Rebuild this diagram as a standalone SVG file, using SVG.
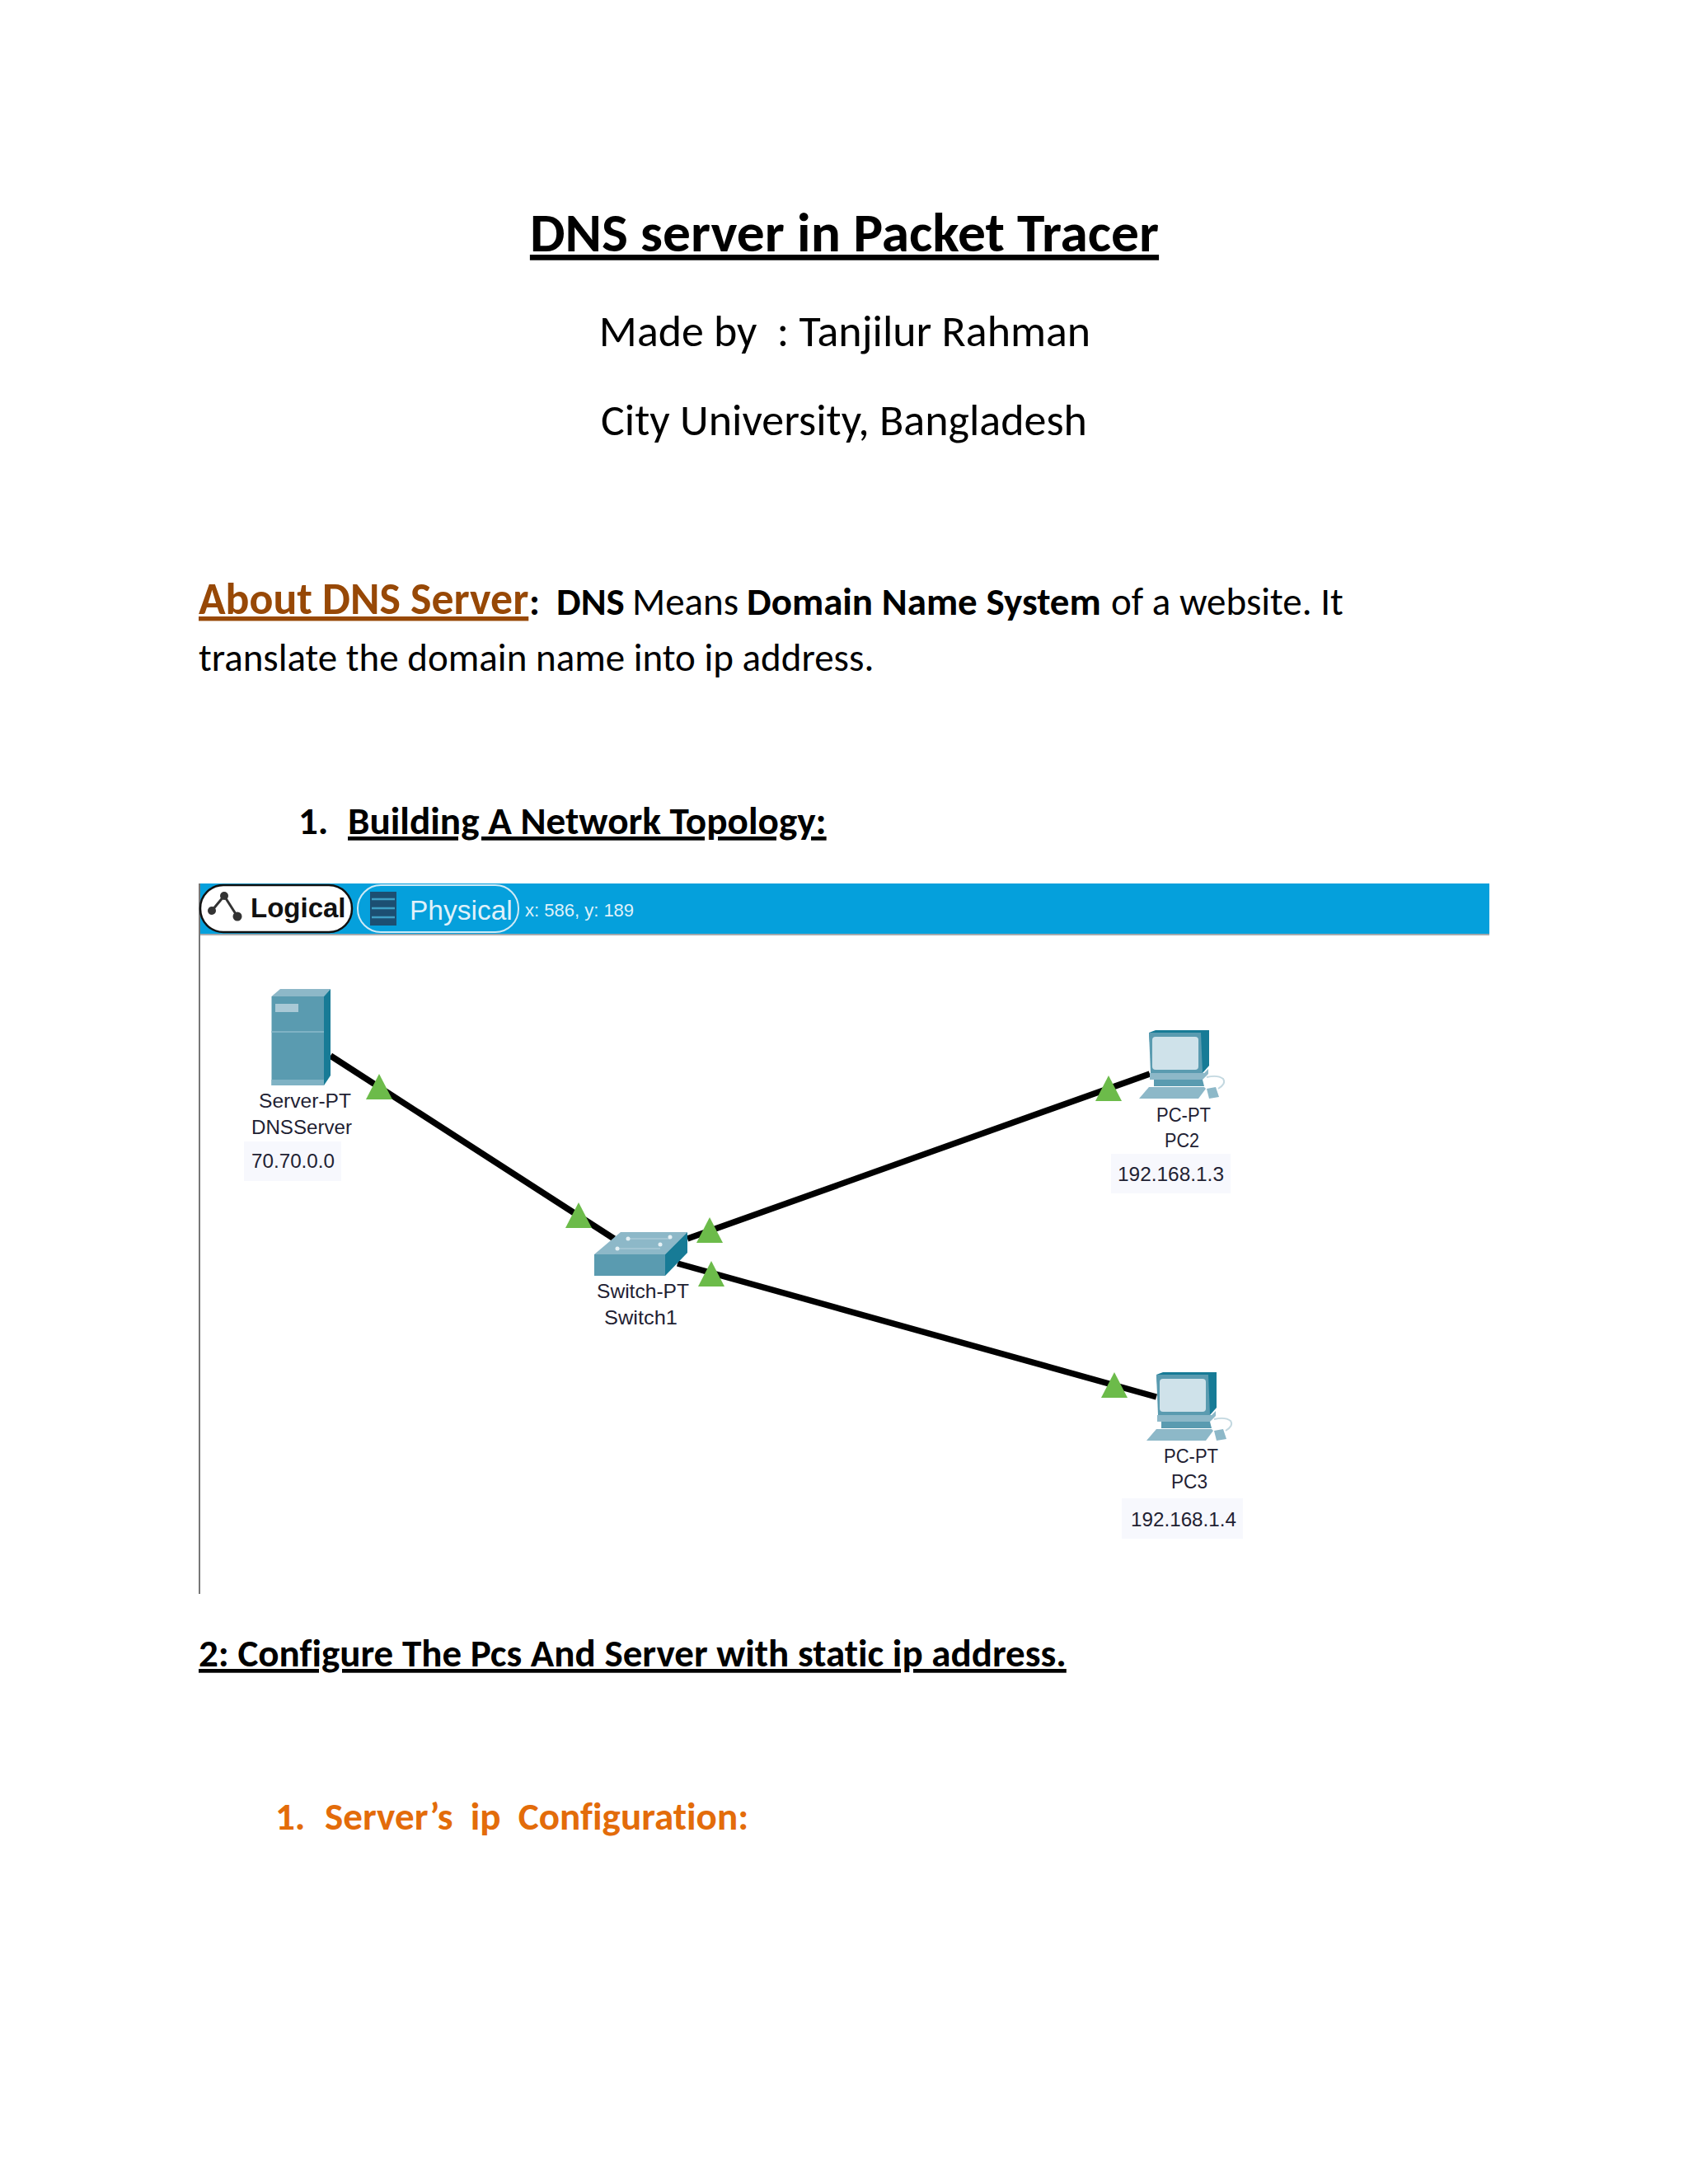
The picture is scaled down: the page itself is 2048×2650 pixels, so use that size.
<svg xmlns="http://www.w3.org/2000/svg" xmlns:xlink="http://www.w3.org/1999/xlink" width="2048" height="2650" viewBox="0 0 2048 2650">
<style>
text{font-family:"Carlito","Liberation Sans","Open Sans",sans-serif;fill:#000;white-space:pre;font-variant-ligatures:none}
.u{text-decoration:underline;text-decoration-skip-ink:none}
.b{font-weight:700}
.body{font-size:47px}
.o{fill:#e36c0a}
.s{font-family:"Liberation Sans",sans-serif;font-size:24px;fill:#1f2233}
.lnk{stroke:#000;stroke-width:7.5;fill:none}
.tri{fill:#6cbb4a}
.front{fill:#5a9bb0}
.top{fill:#8db8c8}
.side{fill:#177b96}
.tag{fill:#f7f8fd}
</style>
<defs>
<polygon id="t" class="tri" points="0,0 16,31 -16,31"/>
<g id="pc">
<path d="M1473 1722q14-3 20 2q4 6-6 12" fill="none" stroke="#c3d8e0" stroke-width="2"/>
<polygon class="top" points="1473,1736 1484,1734 1488,1746 1476,1748"/>
<polygon class="side" points="1403,1668 1411,1665 1476,1665 1476,1708 1468,1717 1407,1717"/>
<polygon class="front" points="1403,1668 1466,1668 1468,1717 1405,1717"/>
<rect x="1407" y="1673" width="56" height="40" rx="4" fill="#cfe2ea"/>
<polygon class="top" points="1404,1717 1470,1717 1475,1712 1475,1718 1468,1725 1404,1725"/>
<polygon class="front" points="1409,1725 1468,1725 1470,1733 1409,1733"/>
<polygon class="top" points="1403,1734 1470,1734 1472,1736 1463,1748 1391,1748"/>
</g>
</defs>
<rect width="2048" height="2650" fill="#fff"/>

<g id="title">
<text class="b u" x="1024.500" y="305" font-size="67.500" text-anchor="middle">DNS server in Packet Tracer</text>
<text x="1025" y="420" font-size="53.900" text-anchor="middle">Made by  : Tanjilur Rahman</text>
<text x="1024" y="528" font-size="54" text-anchor="middle">City University, Bangladesh</text>
</g>
<g id="intro">
<text class="b u" x="241" y="745" font-size="53.800" style="fill:#974806">About DNS Server</text>
<text class="b body" x="642" y="746">:</text>
<text class="b body" x="675" y="746">DNS</text>
<text class="body" x="767" y="746">Means</text>
<text class="b body" x="906" y="746">Domain Name System</text>
<text class="body" x="1348" y="746">of a website. It</text>
<text class="body" x="241" y="814">translate the domain name into ip address.</text>
</g>
<text class="b body" x="362" y="1012">1.</text>
<text class="b u" x="422" y="1012" font-size="47.200">Building A Network Topology:</text>

<g id="toolbar">
<rect x="241" y="1072" width="1566" height="62" fill="#05a0dc"/>
<rect x="241" y="1072" width="2" height="862" fill="#777"/>
<rect x="243" y="1133" width="1564" height="2" fill="#a5a9ad"/>
<rect x="243" y="1074" width="184" height="57" rx="28" fill="#fff" stroke="#111" stroke-width="2.500"/>
<path d="M257 1105L272 1087L288 1112" fill="none" stroke="#333" stroke-width="3"/>
<circle cx="272" cy="1087" r="5" fill="#333"/><circle cx="257" cy="1105" r="5" fill="#333"/><circle cx="288" cy="1112" r="5.500" fill="#333"/>
<text x="304" y="1113" style="font-family:'Liberation Sans',sans-serif;font-weight:700;font-size:33px;fill:#111">Logical</text>
<rect x="434" y="1074" width="195" height="57" rx="28" fill="none" stroke="#cfeaf6" stroke-width="2"/>
<rect x="449" y="1082" width="32" height="41" fill="#1c4f72"/>
<path d="M451 1091H479M451 1102H479M451 1113H479" stroke="#3f9fc4" stroke-width="2.500" fill="none"/>
<text x="497" y="1116" style="font-family:'Liberation Sans',sans-serif;font-size:33.500px;fill:#dff1fa">Physical</text>
<text x="637" y="1112" style="font-family:'Liberation Sans',sans-serif;font-size:22px;fill:#dff1fa">x: 586, y: 189</text>
</g>

<g id="connectors">
<path class="lnk" d="M401 1281L745 1503"/>
<path class="lnk" d="M834 1503L1395 1303"/>
<path class="lnk" d="M822 1533L1403 1695"/>
</g>

<g id="DNSServer">
<polygon class="top" points="329.500,1209 340,1200 401,1200 393,1209"/>
<polygon class="side" points="393,1209 401,1200 401,1305 393,1317"/>
<rect class="front" x="329.500" y="1209" width="63.500" height="108"/>
<rect x="334" y="1218" width="28" height="10" fill="#a9c9d6"/>
<rect x="329.500" y="1251" width="63.500" height="2" fill="#7fb2c4"/>
<rect x="329.500" y="1310" width="63.500" height="7" fill="#7fb2c4"/>
<text class="s" x="314" y="1344" textLength="112" lengthAdjust="spacingAndGlyphs">Server-PT</text>
<text class="s" x="305" y="1376" textLength="122" lengthAdjust="spacingAndGlyphs">DNSServer</text>
<rect class="tag" x="296" y="1385" width="118" height="48"/>
<text class="s" x="305" y="1417" textLength="101" lengthAdjust="spacingAndGlyphs">70.70.0.0</text>
</g>

<g id="Switch1">
<polygon class="top" points="721,1522 753,1495 834,1495 807,1522"/>
<polygon class="side" points="807,1522 834,1495 834,1520 807,1548"/>
<rect class="front" x="721" y="1522" width="86" height="26"/>
<path d="M762 1503H813M749 1515H801" stroke="#a9c9d6" stroke-width="1.500" fill="none"/>
<g fill="#e6f1f5"><circle cx="762" cy="1503" r="2.500"/><circle cx="813" cy="1501" r="2.500"/><circle cx="749" cy="1515" r="2.500"/><circle cx="801" cy="1510" r="2.500"/></g>
<text class="s" x="724" y="1575" textLength="112" lengthAdjust="spacingAndGlyphs">Switch-PT</text>
<text class="s" x="733" y="1607" textLength="89" lengthAdjust="spacingAndGlyphs">Switch1</text>
</g>

<g id="PC2">
<use href="#pc" xlink:href="#pc" transform="translate(-9,-415)"/>
<text class="s" x="1403" y="1361" textLength="66" lengthAdjust="spacingAndGlyphs">PC-PT</text>
<text class="s" x="1413" y="1392" textLength="42" lengthAdjust="spacingAndGlyphs">PC2</text>
<rect class="tag" x="1348" y="1400" width="145" height="48"/>
<text class="s" x="1356" y="1433" textLength="129" lengthAdjust="spacingAndGlyphs">192.168.1.3</text>
</g>

<g id="PC3">
<use href="#pc" xlink:href="#pc"/>
<text class="s" x="1412" y="1775" textLength="66" lengthAdjust="spacingAndGlyphs">PC-PT</text>
<text class="s" x="1421" y="1806" textLength="44" lengthAdjust="spacingAndGlyphs">PC3</text>
<rect class="tag" x="1361" y="1818" width="147" height="49"/>
<text class="s" x="1372" y="1852" textLength="128" lengthAdjust="spacingAndGlyphs">192.168.1.4</text>
</g>

<g id="link-lights">
<use href="#t" xlink:href="#t" x="460" y="1303"/>
<use href="#t" xlink:href="#t" x="702" y="1459"/>
<use href="#t" xlink:href="#t" x="861" y="1477"/>
<use href="#t" xlink:href="#t" x="863" y="1530"/>
<use href="#t" xlink:href="#t" x="1345" y="1305"/>
<use href="#t" xlink:href="#t" x="1352" y="1665"/>
</g>

<text class="b u body" x="241" y="2022">2: Configure The Pcs And Server with static ip address.</text>
<text class="b o" x="334" y="2220" font-size="47.100">1.</text>
<text class="b o" x="394" y="2220" font-size="47.100">Server’s  ip  Configuration:</text>
</svg>
